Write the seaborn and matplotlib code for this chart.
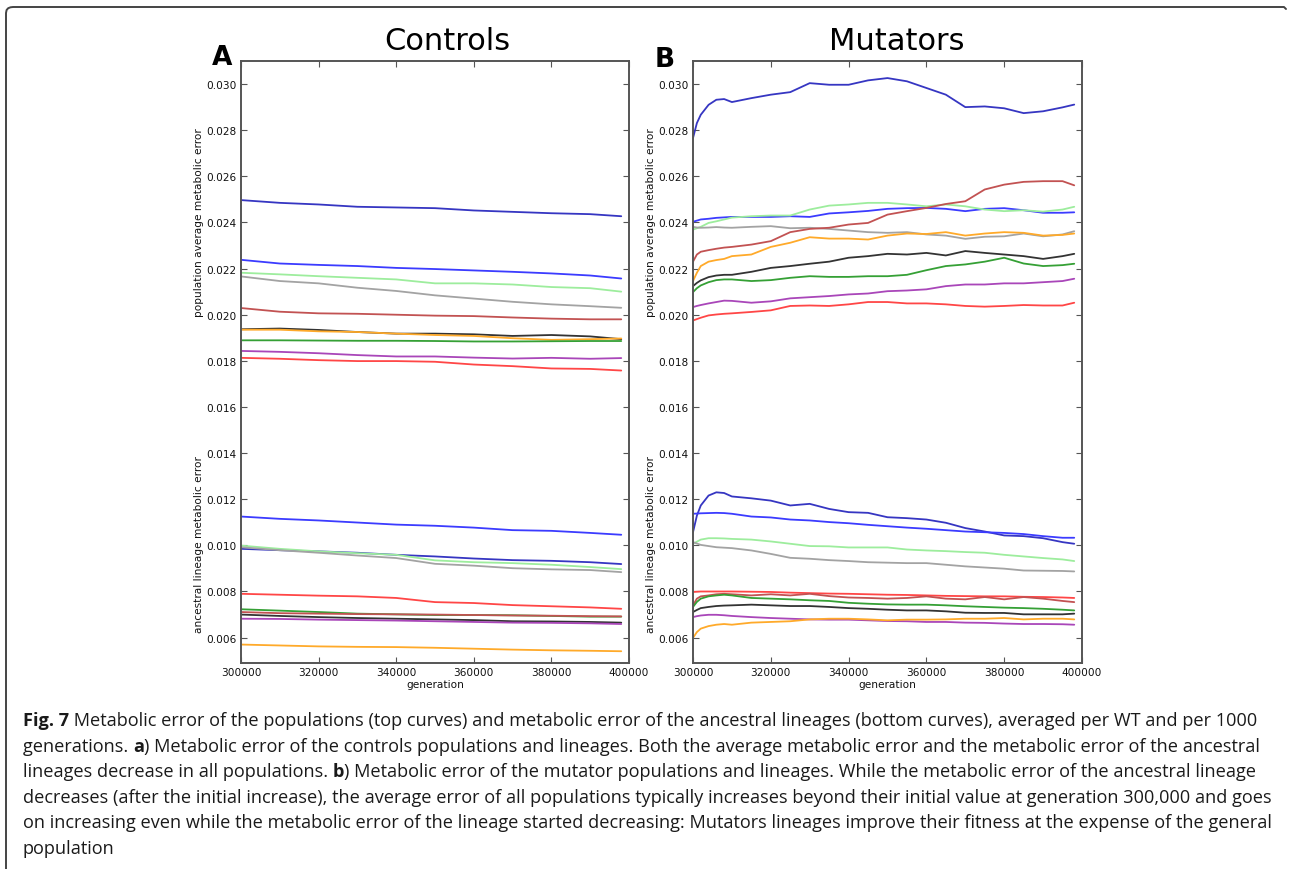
"""Metabolic error of populations and ancestral lineages, controls vs mutators."""

import matplotlib

matplotlib.use("Agg")
import matplotlib.pyplot as plt
import pandas as pd
import seaborn as sns
from matplotlib.lines import Line2D
from matplotlib.transforms import IdentityTransform

# generations sampled (every 1000 in the source, coarser here)
gen_controls = [300000, 310000, 320000, 330000, 340000, 350000,
                360000, 370000, 380000, 390000, 398000]
gen_mutators = [300000, 301000, 302000, 304000, 306000, 308000, 310000,
                315000, 320000, 325000, 330000, 335000, 340000, 345000,
                350000, 355000, 360000, 365000, 370000, 375000, 380000,
                385000, 390000, 395000, 398000]

line_colors = {
    "darkblue": "#3636c2",
    "blue": "#3b3bff",
    "lightgreen": "#9ded9d",
    "gray": "#a3a3a3",
    "indianred": "#c25252",
    "black": "#333333",
    "orange": "#ffaa2a",
    "green": "#35a035",
    "purple": "#a946b9",
    "red": "#ff4646",
}

# controls: population average metabolic error
controls_pop = {
    "darkblue": [0.02497, 0.02485, 0.02478, 0.02468, 0.02465, 0.02462, 0.02452, 0.02446, 0.02440, 0.02436, 0.02427],
    "blue": [0.02238, 0.02222, 0.02216, 0.02211, 0.02203, 0.02198, 0.02192, 0.02186, 0.02179, 0.02170, 0.02157],
    "lightgreen": [0.02182, 0.02175, 0.02167, 0.02160, 0.02153, 0.02136, 0.02136, 0.02131, 0.02120, 0.02115, 0.02100],
    "gray": [0.02166, 0.02146, 0.02136, 0.02117, 0.02103, 0.02084, 0.02070, 0.02056, 0.02045, 0.02037, 0.02030],
    "indianred": [0.02029, 0.02013, 0.02006, 0.02004, 0.02000, 0.01996, 0.01994, 0.01988, 0.01983, 0.01980, 0.01980],
    "black": [0.01937, 0.01940, 0.01934, 0.01925, 0.01918, 0.01918, 0.01915, 0.01908, 0.01912, 0.01906, 0.01894],
    "orange": [0.01935, 0.01935, 0.01928, 0.01925, 0.01918, 0.01912, 0.01908, 0.01898, 0.01891, 0.01894, 0.01897],
    "green": [0.01889, 0.01889, 0.01888, 0.01887, 0.01887, 0.01886, 0.01884, 0.01884, 0.01885, 0.01886, 0.01886],
    "purple": [0.01843, 0.01839, 0.01833, 0.01825, 0.01819, 0.01819, 0.01814, 0.01810, 0.01813, 0.01809, 0.01812],
    "red": [0.01813, 0.01809, 0.01803, 0.01799, 0.01799, 0.01796, 0.01784, 0.01777, 0.01767, 0.01765, 0.01758],
}

# controls: ancestral lineage metabolic error
controls_lin = {
    "blue": [0.01125, 0.01115, 0.01108, 0.01099, 0.01090, 0.01085, 0.01077, 0.01066, 0.01063, 0.01054, 0.01046],
    "darkblue": [0.00985, 0.00979, 0.00974, 0.00968, 0.00959, 0.00952, 0.00943, 0.00936, 0.00933, 0.00927, 0.00919],
    "lightgreen": [0.00999, 0.00985, 0.00974, 0.00966, 0.00959, 0.00935, 0.00927, 0.00923, 0.00916, 0.00906, 0.00897],
    "gray": [0.00992, 0.00979, 0.00968, 0.00956, 0.00945, 0.00920, 0.00912, 0.00901, 0.00896, 0.00893, 0.00884],
    "red": [0.00790, 0.00786, 0.00782, 0.00779, 0.00772, 0.00754, 0.00750, 0.00741, 0.00736, 0.00731, 0.00725],
    "green": [0.00723, 0.00717, 0.00711, 0.00704, 0.00701, 0.00698, 0.00698, 0.00697, 0.00694, 0.00691, 0.00691],
    "indianred": [0.00711, 0.00706, 0.00704, 0.00702, 0.00701, 0.00700, 0.00698, 0.00696, 0.00695, 0.00693, 0.00692],
    "black": [0.00700, 0.00694, 0.00689, 0.00685, 0.00682, 0.00679, 0.00676, 0.00671, 0.00670, 0.00668, 0.00665],
    "purple": [0.00682, 0.00681, 0.00678, 0.00676, 0.00674, 0.00671, 0.00668, 0.00665, 0.00664, 0.00662, 0.00659],
    "orange": [0.00570, 0.00566, 0.00562, 0.00560, 0.00559, 0.00556, 0.00552, 0.00548, 0.00545, 0.00543, 0.00541],
}

# mutators: population average metabolic error
mutators_pop = {
    "darkblue": [0.02766, 0.02831, 0.02867, 0.02910, 0.02932, 0.02935, 0.02922, 0.02939, 0.02954, 0.02965, 0.03004, 0.02997, 0.02997,
                 0.03016, 0.03026, 0.03012, 0.02983, 0.02954, 0.02900, 0.02903, 0.02895, 0.02874, 0.02882, 0.02899, 0.02911],
    "blue": [0.02403, 0.02408, 0.02413, 0.02416, 0.02420, 0.02422, 0.02424, 0.02424, 0.02424, 0.02427, 0.02424, 0.02439, 0.02444,
             0.02450, 0.02459, 0.02462, 0.02463, 0.02459, 0.02449, 0.02459, 0.02462, 0.02453, 0.02442, 0.02442, 0.02444],
    "lightgreen": [0.02369, 0.02375, 0.02381, 0.02398, 0.02405, 0.02413, 0.02421, 0.02427, 0.02430, 0.02430, 0.02456, 0.02473, 0.02478,
                   0.02485, 0.02485, 0.02478, 0.02470, 0.02478, 0.02470, 0.02456, 0.02449, 0.02453, 0.02447, 0.02456, 0.02468],
    "gray": [0.02381, 0.02378, 0.02377, 0.02378, 0.02380, 0.02378, 0.02377, 0.02381, 0.02384, 0.02375, 0.02377, 0.02372, 0.02365,
             0.02358, 0.02355, 0.02358, 0.02348, 0.02343, 0.02329, 0.02338, 0.02340, 0.02352, 0.02340, 0.02348, 0.02362],
    "indianred": [0.02230, 0.02261, 0.02273, 0.02280, 0.02286, 0.02291, 0.02294, 0.02304, 0.02319, 0.02358, 0.02372, 0.02377, 0.02391,
                  0.02398, 0.02434, 0.02449, 0.02463, 0.02480, 0.02492, 0.02543, 0.02564, 0.02576, 0.02579, 0.02579, 0.02561],
    "orange": [0.02146, 0.02182, 0.02211, 0.02230, 0.02237, 0.02242, 0.02254, 0.02261, 0.02294, 0.02312, 0.02336, 0.02330, 0.02330,
               0.02326, 0.02343, 0.02352, 0.02350, 0.02358, 0.02343, 0.02352, 0.02358, 0.02355, 0.02343, 0.02346, 0.02352],
    "black": [0.02124, 0.02138, 0.02149, 0.02163, 0.02170, 0.02173, 0.02173, 0.02186, 0.02203, 0.02211, 0.02221, 0.02230, 0.02247,
              0.02254, 0.02264, 0.02261, 0.02268, 0.02257, 0.02276, 0.02268, 0.02261, 0.02254, 0.02242, 0.02254, 0.02264],
    "green": [0.02098, 0.02115, 0.02127, 0.02141, 0.02150, 0.02153, 0.02153, 0.02146, 0.02150, 0.02160, 0.02167, 0.02164, 0.02164,
              0.02167, 0.02167, 0.02173, 0.02193, 0.02211, 0.02218, 0.02230, 0.02247, 0.02222, 0.02211, 0.02215, 0.02221],
    "purple": [0.02033, 0.02038, 0.02042, 0.02049, 0.02055, 0.02061, 0.02060, 0.02052, 0.02058, 0.02071, 0.02076, 0.02081, 0.02088,
               0.02092, 0.02102, 0.02105, 0.02110, 0.02124, 0.02131, 0.02131, 0.02136, 0.02136, 0.02141, 0.02146, 0.02156],
    "red": [0.01975, 0.01981, 0.01987, 0.01997, 0.02001, 0.02004, 0.02006, 0.02012, 0.02019, 0.02038, 0.02040, 0.02038, 0.02045,
            0.02055, 0.02055, 0.02049, 0.02049, 0.02045, 0.02038, 0.02035, 0.02038, 0.02042, 0.02040, 0.02040, 0.02052],
}

# mutators: ancestral lineage metabolic error
mutators_lin = {
    "darkblue": [0.01057, 0.01129, 0.01173, 0.01216, 0.01230, 0.01227, 0.01212, 0.01204, 0.01194, 0.01173, 0.01180, 0.01158, 0.01144,
                 0.01141, 0.01122, 0.01118, 0.01112, 0.01098, 0.01075, 0.01060, 0.01043, 0.01040, 0.01031, 0.01014, 0.01007],
    "blue": [0.01137, 0.01138, 0.01139, 0.01140, 0.01141, 0.01140, 0.01137, 0.01125, 0.01121, 0.01112, 0.01108, 0.01101, 0.01096,
             0.01089, 0.01083, 0.01077, 0.01072, 0.01066, 0.01060, 0.01057, 0.01054, 0.01049, 0.01040, 0.01033, 0.01033],
    "lightgreen": [0.01007, 0.01016, 0.01025, 0.01031, 0.01031, 0.01030, 0.01028, 0.01025, 0.01017, 0.01007, 0.00997, 0.00996, 0.00991,
                   0.00991, 0.00991, 0.00982, 0.00978, 0.00975, 0.00971, 0.00968, 0.00959, 0.00952, 0.00945, 0.00939, 0.00932],
    "gray": [0.01014, 0.01008, 0.01002, 0.00997, 0.00992, 0.00990, 0.00988, 0.00978, 0.00963, 0.00946, 0.00942, 0.00936, 0.00932,
             0.00927, 0.00925, 0.00923, 0.00923, 0.00916, 0.00909, 0.00904, 0.00899, 0.00891, 0.00890, 0.00889, 0.00887],
    "red": [0.00798, 0.00799, 0.00800, 0.00800, 0.00800, 0.00800, 0.00800, 0.00799, 0.00798, 0.00795, 0.00793, 0.00791, 0.00790,
            0.00788, 0.00786, 0.00785, 0.00783, 0.00781, 0.00780, 0.00779, 0.00779, 0.00777, 0.00776, 0.00774, 0.00772],
    "indianred": [0.00740, 0.00769, 0.00779, 0.00783, 0.00788, 0.00790, 0.00788, 0.00783, 0.00788, 0.00783, 0.00790, 0.00780, 0.00774,
                  0.00772, 0.00769, 0.00772, 0.00779, 0.00769, 0.00766, 0.00776, 0.00766, 0.00776, 0.00769, 0.00759, 0.00754],
    "green": [0.00733, 0.00755, 0.00769, 0.00779, 0.00783, 0.00786, 0.00783, 0.00772, 0.00769, 0.00766, 0.00762, 0.00759, 0.00751,
              0.00747, 0.00744, 0.00743, 0.00743, 0.00740, 0.00736, 0.00733, 0.00730, 0.00728, 0.00725, 0.00721, 0.00718],
    "black": [0.00711, 0.00720, 0.00728, 0.00733, 0.00737, 0.00739, 0.00740, 0.00743, 0.00740, 0.00737, 0.00737, 0.00733, 0.00728,
              0.00725, 0.00721, 0.00718, 0.00718, 0.00714, 0.00708, 0.00707, 0.00707, 0.00701, 0.00701, 0.00701, 0.00704],
    "purple": [0.00689, 0.00693, 0.00696, 0.00699, 0.00699, 0.00697, 0.00694, 0.00689, 0.00685, 0.00682, 0.00679, 0.00678, 0.00678,
               0.00675, 0.00672, 0.00671, 0.00668, 0.00668, 0.00665, 0.00664, 0.00661, 0.00659, 0.00659, 0.00658, 0.00656],
    "orange": [0.00599, 0.00624, 0.00639, 0.00650, 0.00656, 0.00659, 0.00656, 0.00665, 0.00668, 0.00671, 0.00679, 0.00682, 0.00682,
               0.00679, 0.00675, 0.00678, 0.00678, 0.00679, 0.00682, 0.00682, 0.00685, 0.00679, 0.00682, 0.00682, 0.00679],
}

y_ticks = [0.006, 0.008, 0.010, 0.012, 0.014, 0.016, 0.018, 0.020,
           0.022, 0.024, 0.026, 0.028, 0.030]
x_ticks = [300000, 320000, 340000, 360000, 380000, 400000]

caption_lines = [
    [("Fig. 7", "bold"), (" Metabolic error of the populations (top curves) and metabolic error of the ancestral "
                          "lineages (bottom curves), averaged per WT and per 1000", "normal")],
    [("generations. ", "normal"), ("a", "bold"), (") Metabolic error of the controls populations and lineages. Both the "
                                                  "average metabolic error and the metabolic error of the ancestral", "normal")],
    [("lineages decrease in all populations. ", "normal"), ("b", "bold"), (") Metabolic error of the mutator populations and "
                                                                            "lineages. While the metabolic error of the ancestral lineage", "normal")],
    [("decreases (after the initial increase), the average error of all populations typically increases beyond their "
      "initial value at generation 300,000 and goes", "normal")],
    [("on increasing even while the metabolic error of the lineage started decreasing: Mutators lineages improve their "
      "fitness at the expense of the general", "normal")],
    [("population", "normal")],
]


def to_long(gens, curves, kind):
    """Turn a dict of curves into a long table for seaborn."""
    frames = []
    for color, values in curves.items():
        frames.append(pd.DataFrame({"generation": gens, "error": values,
                                    "series": f"{kind}_{color}"}))
    return pd.concat(frames, ignore_index=True)


def draw_panel(ax, gens, pop, lin):
    df = pd.concat([to_long(gens, pop, "pop"), to_long(gens, lin, "lin")], ignore_index=True)
    palette = {s: line_colors[s.split("_", 1)[1]] for s in df["series"].unique()}
    sns.lineplot(data=df, x="generation", y="error", hue="series", palette=palette,
                 estimator=None, sort=False, legend=False, linewidth=1.3, ax=ax)
    ax.set_xlim(300000, 400000)
    ax.set_ylim(0.0049, 0.031)
    ax.set_xticks(x_ticks)
    ax.set_xticklabels([str(t) for t in x_ticks])
    ax.set_yticks(y_ticks)
    ax.set_yticklabels([f"{t:.3f}" for t in y_ticks])
    ax.tick_params(direction="in", top=True, right=True, length=4, width=0.8,
                   labelsize=7.6, labelcolor="#111111", color="#555555", pad=3)
    for spine in ax.spines.values():
        spine.set_visible(True)
        spine.set_color("#555555")
        spine.set_linewidth(1.4)
    ax.set_xlabel("generation", fontsize=7.6, color="#111111", labelpad=1)
    ax.set_ylabel("")
    ax.text(-0.107, 0.733, "population average metabolic error", transform=ax.transAxes,
            rotation=90, ha="center", va="center", fontsize=7.6, color="#111111")
    ax.text(-0.107, 0.198, "ancestral lineage metabolic error", transform=ax.transAxes,
            rotation=90, ha="center", va="center", fontsize=7.6, color="#111111")


def text_advance(fig, renderer, text, size, weight):
    """Width a run takes, trailing spaces included (measured against a sentinel)."""
    probe = fig.text(0, 0, text + "|", fontsize=size, fontweight=weight, family="Open Sans",
                     transform=IdentityTransform())
    full = probe.get_window_extent(renderer).width
    probe.set_text("|")
    bar = probe.get_window_extent(renderer).width
    probe.remove()
    return full - bar


def draw_caption(fig, x0, baselines, size):
    renderer = fig.canvas.get_renderer()
    for runs, base in zip(caption_lines, baselines):
        x = x0
        for text, weight in runs:
            fig.text(x, 870 - base, text, fontsize=size, fontweight=weight, family="Open Sans",
                     color="#1a1a1a", va="baseline", transform=IdentityTransform())
            x += text_advance(fig, renderer, text, size, weight)


sns.set_style("ticks")
plt.rcParams["font.family"] = ["DejaVu Sans"]
plt.rcParams["text.color"] = "black"

fig = plt.figure(figsize=(12.9, 8.7), dpi=100)
ax_a = fig.add_axes([241 / 1290, 1 - 664 / 870, 388 / 1290, 602 / 870])
ax_b = fig.add_axes([693 / 1290, 1 - 664 / 870, 389 / 1290, 602 / 870])

draw_panel(ax_a, gen_controls, controls_pop, controls_lin)
draw_panel(ax_b, gen_mutators, mutators_pop, mutators_lin)

fig.text(447 / 1290, 1 - 50 / 870, "Controls", ha="center", va="baseline", fontsize=22, color="black")
fig.text(897 / 1290, 1 - 50 / 870, "Mutators", ha="center", va="baseline", fontsize=22, color="black")
fig.text(222 / 1290, 1 - 65 / 870, "A", ha="center", va="baseline", fontsize=19, fontweight="bold", color="black")
fig.text(665 / 1290, 1 - 67 / 870, "B", ha="center", va="baseline", fontsize=19, fontweight="bold", color="black")

# frame around the figure (rounded top-left corner)
frame_x = [6, 6, 6.6, 8.2, 10.5, 13, 1284, 1286]
frame_y = [870, 14, 11, 9.2, 8.3, 8, 8, 10]
fig.add_artist(Line2D([x / 1290 for x in frame_x], [1 - y / 870 for y in frame_y],
                      transform=fig.transFigure, color="#444444", linewidth=1.4))

draw_caption(fig, 23, [726, 751.6, 777, 803, 828, 854], 13.1)

fig.savefig("out.png", dpi=100)
